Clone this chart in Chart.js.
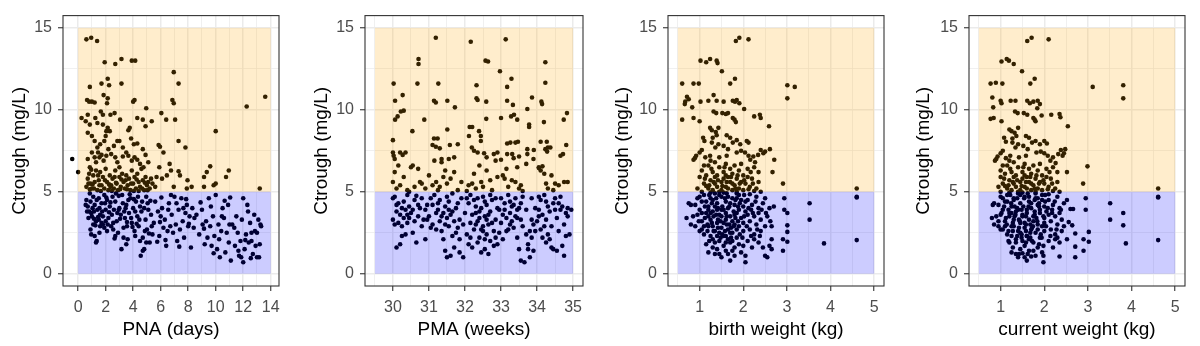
<!DOCTYPE html>
<html>
<head>
<meta charset="utf-8">
<script src="https://cdn.jsdelivr.net/npm/chart.js@4.4.1/dist/chart.umd.min.js"></script>
<style>
  html, body { margin: 0; padding: 0; background: #fff; }
  #wrap { position: relative; width: 1200px; height: 346px; }
  #wrap canvas { position: absolute; top: 0; }
</style>
</head>
<body>
<div id="wrap">
  <canvas id="pna" width="300" height="346" style="left:0px"></canvas>
  <canvas id="pma" width="300" height="346" style="left:300px"></canvas>
  <canvas id="bw" width="300" height="346" style="left:600px"></canvas>
  <canvas id="cw" width="300" height="346" style="left:900px"></canvas>
</div>
<script>
// trough target window (mg/L)
const troughLow = 5;
const troughHigh = 15;

const yMajor = [0, 5, 10, 15];
const yMinor = [2.5, 7.5, 12.5];

const pnaMajor = [0, 2, 4, 6, 8, 10, 12, 14];
const pnaMinor = [1, 3, 5, 7, 9, 11, 13];
const pmaMajor = [30, 31, 32, 33, 34, 35];
const pmaMinor = [29.5, 30.5, 31.5, 32.5, 33.5, 34.5];
const wtMajor = [1, 2, 3, 4, 5];
const wtMinor = [0.5, 1.5, 2.5, 3.5, 4.5];

// [PNA days, Ctrough]
const pnaPoints = [
  [-0.43,7.0],[0.0,6.2],[0.6,14.3],[0.95,14.4],[1.38,14.2],[1.93,12.9],[2.7,12.8],[3.15,13.1],[3.9,13.0],[4.15,13.0],
  [0.85,11.4],[1.7,11.6],[2.15,11.9],[2.25,11.5],[3.15,11.6],[6.95,12.3],[7.3,11.6],
  [0.65,10.6],[0.8,10.5],[1.0,10.5],[1.2,10.45],[1.85,10.9],[2.15,10.7],[2.1,10.4],[4.0,10.5],[4.1,10.6],[4.95,10.1],[6.85,10.6],[6.95,10.4],[12.25,10.2],[13.6,10.8],
  [0.25,9.5],[0.7,9.7],[1.25,9.5],[1.65,9.9],[1.8,9.7],[2.35,9.7],[2.65,9.8],[3.05,9.4],[4.3,9.5],[4.7,9.4],[4.9,9.0],[5.35,9.3],[6.05,9.8],[6.4,9.4],[7.05,9.4],[0.55,9.3],[0.85,9.1],[1.4,9.2],[1.8,9.1],[2.05,8.7],[10.0,8.7],
  [0.7,8.6],[1.0,8.4],[1.2,8.1],[1.4,7.7],[1.6,7.9],[1.9,8.1],[2.0,8.4],[2.15,8.9],[2.3,8.7],[2.6,7.8],[2.85,8.1],[3.0,8.1],[3.25,7.7],[3.65,8.75],[3.75,8.9],[3.85,8.25],[4.05,7.9],[4.3,7.95],[4.7,7.6],[5.85,7.85],[5.95,7.75],[7.3,8.1],[7.8,7.7],
  [0.7,7.0],[0.85,6.5],[1.0,7.4],[1.2,7.1],[1.3,6.8],[1.45,7.4],[1.55,7.1],[1.7,7.25],[1.85,6.9],[2.05,7.2],[2.2,7.6],[2.4,7.3],[2.7,7.1],[2.85,6.8],[3.0,6.5],[3.25,7.15],[3.5,7.4],[3.65,7.2],[3.9,6.9],[4.1,7.1],[4.3,6.95],[4.5,6.7],[4.75,6.5],[4.9,7.25],[5.1,6.8],[5.9,6.5],[6.2,7.4],[6.65,6.7],[6.75,6.3],[7.3,6.25],[7.4,6.0],[9.6,6.55],[9.35,6.2],[9.15,5.9],[10.95,6.3],[10.75,5.9],[10.0,5.5],[7.95,5.7],[13.2,5.2],
  [0.6,5.3],[0.7,5.8],[0.8,6.1],[0.9,5.5],[1.0,5.2],[1.1,6.0],[1.2,5.6],[1.3,6.3],[1.4,5.1],[1.5,5.7],[1.6,6.2],[1.7,5.4],[1.8,5.9],[1.9,5.2],[2.0,6.4],[2.1,5.6],[2.2,5.1],[2.3,6.0],[2.4,5.4],[2.5,5.8],[2.6,5.2],[2.7,6.3],[2.8,5.5],[2.9,5.1],[3.0,5.9],[3.1,5.3],[3.2,6.1],[3.3,5.6],[3.4,5.2],[3.5,6.0],[3.6,5.4],[3.7,5.8],[3.8,5.1],[3.9,6.3],[4.0,5.5],[4.1,5.9],[4.2,5.2],[4.3,6.1],[4.4,5.6],[4.5,5.3],[4.6,6.4],[4.7,5.7],[4.8,5.1],[4.9,5.9],[5.0,5.4],[5.1,5.6],[5.2,5.2],[5.4,5.5],[5.6,5.3],[5.7,5.9],[6.1,5.8],[6.45,6.0],[6.95,5.3],[7.9,5.2],[8.25,5.3],[9.15,5.3],[9.85,5.4],[1.05,5.45],[1.65,5.05],[2.45,5.05],[3.15,5.75],[4.05,5.05],[4.85,5.55],[0.95,6.35],[2.75,5.55],
  [0.75,5.5],[1.15,5.2],[1.55,5.4],[1.95,5.7],[2.35,5.3],[2.65,5.9],[3.05,5.15],[3.45,5.7],[3.85,5.5],[4.25,5.75],[4.65,5.2],[5.05,5.1],[5.3,5.8],[0.85,5.15],[1.45,6.0],[2.25,5.45],[3.55,5.15],[4.4,5.05],
  [0.6,4.5],[0.7,4.1],[0.8,3.8],[0.9,4.4],[1.0,3.5],[1.1,4.7],[1.2,4.2],[1.3,3.2],[1.4,3.9],[1.5,4.6],[1.6,3.6],[1.7,4.3],[1.8,3.0],[1.9,4.8],[2.0,3.9],[2.1,4.5],[2.2,3.4],[2.3,4.1],[2.4,2.9],[2.5,4.7],[0.9,2.7],[1.2,2.3],[1.3,1.9],[1.35,2.0],[1.5,3.3],[1.6,2.9],[1.7,3.1],[1.8,3.5],[1.9,2.8],[2.0,3.2],[2.1,2.6],[1.1,3.0],[0.75,3.4],[0.95,3.7],[1.45,3.45],[1.25,2.95],[2.25,3.75],[2.35,4.35],[1.05,4.0],[0.65,3.8],
  [2.6,3.9],[2.7,4.4],[2.8,3.2],[2.9,2.5],[3.0,4.0],[3.1,3.6],[3.2,4.8],[3.3,2.8],[3.4,3.4],[3.5,4.2],[3.6,2.1],[3.7,3.7],[3.8,4.6],[3.9,3.1],[4.0,4.0],[4.1,2.6],[4.2,4.4],[4.3,3.5],[4.4,2.9],[4.5,4.1],[4.6,3.8],[4.7,2.2],[4.8,4.0],[4.9,3.3],[5.0,2.7],[5.1,3.9],[5.2,1.9],[5.3,3.6],[5.4,2.4],[5.5,3.1],[3.15,1.5],[2.7,2.3],[2.65,2.15],[3.5,1.8],[4.55,1.1],[4.7,1.4],[4.8,1.5],[4.5,2.0],[3.95,2.85],[3.05,3.35],[2.95,4.75],[3.75,4.85],[4.05,4.55],[4.95,4.7],[5.25,4.45],[3.45,4.0],[4.25,3.05],[2.85,3.7],
  [0.55,4.2],[0.85,4.9],[1.15,3.8],[1.35,4.5],[1.55,4.0],[1.75,3.8],[1.95,4.3],[2.15,3.0],[2.45,3.6],[2.55,3.1],[2.75,4.9],[2.95,3.9],[3.25,4.3],[3.35,3.8],[3.55,2.9],[3.65,4.5],[3.85,3.4],[4.15,3.8],[4.35,4.7],[4.45,3.3],[4.65,4.4],[4.85,2.6],[5.05,4.3],[5.35,2.9],[3.3,2.2],[2.55,2.7],[1.55,2.5],[0.95,2.4],[1.15,3.35],[2.05,4.65],[3.55,3.15],[4.15,2.3],[4.95,1.9],[5.15,2.45],
  [5.6,4.4],[5.8,3.8],[5.9,2.3],[6.0,3.5],[6.1,4.0],[6.2,2.8],[6.3,3.3],[6.4,1.7],[6.5,2.6],[6.6,4.3],[6.7,2.9],[6.8,3.6],[6.9,2.5],[7.0,4.7],[7.1,3.0],[7.2,2.0],[7.3,3.9],[7.4,2.7],[7.5,4.6],[7.6,3.2],[7.7,2.2],[7.8,3.7],[7.9,4.2],[8.0,2.9],[8.1,3.5],[8.2,1.6],[8.3,4.0],[8.4,2.8],[6.35,2.05],[7.35,1.65],[5.75,1.95],[6.75,4.8],[7.85,4.55],[8.05,3.05],[6.05,4.65],[5.95,3.15],[6.55,3.9],[7.15,4.3],[7.65,4.0],[8.45,3.4],
  [8.6,3.6],[8.8,2.4],[9.0,3.9],[9.2,1.8],[9.3,3.2],[9.5,4.6],[9.6,2.9],[9.7,1.7],[9.8,3.5],[9.9,2.3],[10.0,4.8],[10.1,1.5],[10.2,3.0],[10.3,1.0],[10.4,2.6],[10.5,4.0],[10.6,3.4],[10.7,1.3],[10.8,2.5],[10.9,4.2],[11.0,3.0],[11.1,0.8],[9.4,2.2],[9.85,1.25],[10.25,2.1],[10.95,1.9],[8.9,4.35],[9.15,2.75],[10.65,4.45],[11.05,4.65],[9.05,3.0],[9.65,4.1],[10.45,3.5],
  [11.2,3.0],[11.4,1.7],[11.5,3.5],[11.6,2.5],[11.7,1.1],[11.8,2.0],[11.9,3.3],[12.0,0.7],[12.0,4.6],[12.1,1.5],[12.2,2.4],[12.3,4.2],[12.4,1.9],[12.5,3.1],[12.6,2.5],[12.7,1.2],[12.8,3.6],[12.9,1.7],[13.0,2.5],[13.0,1.0],[13.1,3.3],[13.2,1.8],[13.3,2.9],[11.65,1.4],[12.15,2.05],[12.55,0.95],[13.15,1.0],[11.85,1.0],[12.35,3.8],[13.25,3.0],[11.35,2.8],[12.6,2.0],[12.85,2.6]
];

// [PMA weeks, Ctrough]
const pmaPoints = [
  [31.19,14.4],[32.16,14.15],[33.13,14.3],[30.71,13.1],[30.71,12.8],[32.57,13.0],[32.64,12.95],[32.97,12.35],[34.23,12.9],
  [30.02,11.6],[30.68,11.6],[31.26,11.6],[32.32,11.5],[33.17,11.4],[33.29,11.9],[34.23,11.65],[30.27,10.9],[30.06,10.55],[31.14,10.55],[31.19,10.45],[31.51,10.55],[31.72,10.15],[32.32,10.7],[32.35,10.6],[32.59,10.5],[33.17,10.55],[33.33,10.3],[33.86,10.75],[33.73,10.05],[34.14,10.35],[34.12,10.5],
  [34.83,9.8],[34.19,9.25],[34.74,9.4],[33.36,9.7],[33.28,9.6],[33.45,9.4],[33.0,9.5],[32.59,9.45],[30.87,9.4],[30.13,9.6],[30.06,9.4],[30.22,9.9],[30.3,9.95],[30.54,8.7],[31.51,8.8],[32.13,8.95],[32.2,8.95],[32.39,8.7],[32.44,8.4],[32.11,8.4],[32.44,8.1],[33.78,9.1],[33.78,8.95],
  [31.8,7.9],[31.58,7.85],[31.14,8.25],[31.24,8.25],[31.1,7.85],[31.19,7.75],[31.3,7.65],[30.0,8.15],[30.0,7.4],[30.02,7.2],[30.2,7.4],[30.27,7.25],[32.19,7.7],[32.25,7.5],[32.53,7.35],[32.9,7.4],[33.17,7.95],[33.26,8.0],[33.4,8.0],[33.47,8.05],[33.17,7.3],[33.31,7.3],[33.5,7.15],[33.73,7.6],[33.91,7.55],[34.1,8.05],[34.27,8.05],[34.23,7.6],[34.3,7.7],[34.37,7.7],[34.28,7.45],[34.81,7.85],[34.65,7.2],[34.72,7.3],[33.73,7.3],
  [30.05,7.0],[30.35,7.4],[30.55,6.6],[31.35,7.0],[31.7,7.1],[32.35,7.4],[32.6,7.1],[32.8,7.3],[33.0,6.95],[33.35,7.05],[34.05,6.45],[34.15,6.55],
  [30.0,5.6],[30.05,6.2],[30.1,5.2],[30.15,6.6],[30.2,5.4],[30.3,5.9],[30.4,5.1],[30.5,6.5],[30.6,5.3],[30.7,6.4],[30.75,5.6],[30.8,5.5],[30.9,5.2],[31.0,6.0],[31.1,5.4],[31.15,6.9],[31.2,5.6],[31.3,5.3],[31.35,6.8],[31.4,5.9],[31.45,6.3],[31.5,5.5],[31.55,7.0],[31.6,5.8],[31.7,6.2],[31.8,5.1],[31.9,5.6],[32.1,5.4],[32.2,5.5],[32.25,6.1],[32.3,5.2],[32.4,6.6],[32.45,5.6],[32.5,5.3],[32.6,6.3],[32.7,5.7],[32.75,5.1],[32.85,6.9],[32.9,5.9],[33.05,6.0],[33.1,5.8],[33.15,6.4],[33.2,5.3],[33.3,5.7],[33.4,5.6],[33.45,6.5],[33.5,5.2],[33.55,5.4],[33.7,6.7],[33.9,7.0],[34.05,6.5],[34.1,6.3],[34.2,6.1],[34.25,5.5],[34.3,5.2],[34.4,6.0],[34.5,5.5],[34.6,5.4],[34.75,5.6],[34.85,5.6],[30.45,5.0],[31.25,5.1],[32.05,5.05],[33.6,5.05],[34.45,5.1],
  [30.0,4.6],[30.0,3.3],[30.05,4.7],[30.05,3.0],[30.1,1.6],[30.1,3.8],[30.15,4.3],[30.2,3.6],[30.2,1.8],[30.25,4.0],[30.25,2.3],[30.3,3.4],[30.3,4.4],[30.35,2.4],[30.35,3.9],[30.4,3.1],[30.4,4.8],[30.45,4.1],[30.5,3.7],[30.55,2.5],[30.6,4.5],[30.6,3.2],[30.65,1.9],[30.7,3.5],[30.75,4.0],[30.8,2.9],[30.8,4.6],[30.85,3.3],[30.9,2.1],[30.9,3.9],[30.95,4.2],[30.25,2.9],[30.15,3.1],[30.45,3.4],[30.65,4.75],[30.1,4.2],[30.4,3.6],[30.7,4.2],[30.95,3.3],[30.55,3.9],
  [31.0,3.5],[31.05,2.8],[31.1,4.2],[31.1,3.0],[31.15,4.8],[31.2,2.7],[31.25,3.9],[31.3,4.5],[31.3,3.2],[31.35,2.6],[31.4,3.7],[31.4,2.1],[31.45,1.4],[31.45,4.1],[31.5,3.4],[31.5,1.0],[31.55,2.9],[31.55,4.4],[31.6,3.6],[31.6,1.1],[31.65,2.3],[31.65,4.9],[31.7,3.2],[31.7,1.6],[31.75,4.0],[31.8,2.8],[31.85,1.3],[31.85,3.3],[31.9,4.6],[31.95,1.0],[31.95,3.0],[31.35,3.5],[31.55,3.9],[31.25,4.3],[31.75,2.5],[31.05,4.6],[31.2,3.7],[31.5,4.7],[31.8,4.3],[31.45,3.0],[31.65,3.8],[31.85,2.1],
  [32.0,3.7],[32.05,2.4],[32.1,4.3],[32.1,1.8],[32.15,3.1],[32.15,4.8],[32.2,1.6],[32.2,3.6],[32.25,2.7],[32.3,4.1],[32.3,3.0],[32.35,1.9],[32.35,4.6],[32.4,3.4],[32.4,2.2],[32.45,4.0],[32.45,1.3],[32.5,2.9],[32.5,4.7],[32.55,3.5],[32.55,1.5],[32.6,2.4],[32.6,4.2],[32.65,3.0],[32.65,1.2],[32.7,3.8],[32.7,2.0],[32.75,4.5],[32.8,2.6],[32.8,1.7],[32.85,3.3],[32.9,4.0],[32.9,1.8],[32.95,2.5],[32.95,3.9],[32.5,2.6],[32.4,3.8],[32.6,3.3],[32.25,4.5],[32.75,3.1],
  [32.05,4.6],[32.3,3.7],[32.55,4.4],[32.7,4.8],[32.85,4.6],[32.45,2.7],[32.35,3.2],[32.55,2.1],[32.65,3.6],[32.15,2.2],[32.85,2.2],
  [33.0,3.1],[33.0,4.6],[33.05,2.1],[33.1,3.9],[33.1,4.3],[33.15,3.4],[33.2,2.7],[33.2,4.8],[33.25,3.7],[33.3,4.1],[33.3,3.2],[33.35,2.8],[33.4,3.5],[33.4,4.6],[33.45,2.2],[33.45,3.4],[33.5,1.5],[33.5,4.0],[33.55,0.8],[33.55,3.3],[33.6,2.9],[33.6,4.7],[33.65,0.7],[33.7,2.4],[33.7,3.9],[33.75,1.8],[33.75,1.5],[33.8,2.6],[33.8,1.0],[33.85,3.3],[33.85,2.2],[33.9,1.4],[33.9,3.0],[33.95,4.0],[33.35,4.2],[33.15,2.6],[33.05,3.6],[33.25,4.4],[33.55,4.3],[33.85,4.6],[33.25,3.0],[33.45,3.9],[33.95,2.6],
  [34.0,3.2],[34.05,3.9],[34.1,2.7],[34.1,4.5],[34.15,2.2],[34.15,3.6],[34.2,2.9],[34.2,4.8],[34.25,1.9],[34.25,3.3],[34.3,4.1],[34.3,2.4],[34.35,3.8],[34.4,1.6],[34.4,2.9],[34.45,1.5],[34.5,4.6],[34.55,3.4],[34.6,4.3],[34.6,2.6],[34.65,3.9],[34.7,1.7],[34.7,4.1],[34.75,1.1],[34.75,3.0],[34.8,2.3],[34.8,3.7],[34.85,4.0],[34.9,2.4],[34.95,3.9],[34.35,2.1],[34.05,4.7],[34.55,1.4],[34.05,3.5],[34.25,4.4],[34.5,3.9],[34.65,4.7],[34.85,3.5],[34.45,4.3]
];

// [birth weight kg, Ctrough]
const bwPoints = [
  [1.91,14.4],[1.83,14.2],[2.12,14.3],[1.02,13.0],[1.15,12.9],[1.24,13.1],[1.39,13.0],[1.41,12.85],[1.51,12.35],[1.7,11.6],[1.81,11.9],[0.6,11.6],[0.86,11.6],[0.98,11.6],
  [0.71,10.8],[0.75,10.65],[0.67,10.5],[0.66,10.35],[0.83,10.15],[1.02,10.5],[1.2,10.55],[1.32,10.9],[1.39,10.55],[1.55,10.5],[1.76,10.55],[1.81,10.5],[1.85,10.6],[1.91,10.4],[2.02,10.05],
  [0.6,9.4],[0.86,9.5],[1.0,9.3],[1.32,9.9],[1.38,9.8],[1.52,9.8],[1.6,9.75],[1.65,9.8],[1.76,9.5],[1.8,9.4],[1.83,9.25],[2.25,9.6],[2.38,9.7],[2.4,9.5],[2.59,9.0],
  [1.24,8.9],[1.28,8.75],[1.37,8.65],[1.43,8.9],[1.3,8.3],[1.39,8.45],[1.62,8.45],[1.7,8.3],[1.08,8.3],[1.11,8.1],[1.28,8.0],[1.43,7.9],[1.36,7.7],[1.55,7.8],[1.65,7.6],[1.76,8.0],[1.85,8.15],[1.93,7.9],[2.08,8.1],[2.12,8.0],
  [1.05,7.55],[1.0,7.4],[0.92,7.2],[0.89,7.05],[0.86,6.95],[1.13,7.1],[1.24,7.2],[1.45,7.1],[1.62,7.2],[1.85,7.4],[1.95,7.5],[2.04,7.4],[2.12,7.2],[2.23,7.15],[2.34,7.25],[2.4,7.55],[2.46,7.35],[2.16,6.95],[2.27,6.8],[2.61,7.6],[2.5,7.45],[2.71,6.95],[2.67,6.2],
  [0.95,5.2],[1.0,5.9],[1.05,6.3],[1.1,5.5],[1.15,6.0],[1.2,5.2],[1.2,6.6],[1.25,5.7],[1.3,6.2],[1.3,5.1],[1.35,5.5],[1.35,6.8],[1.4,6.0],[1.4,5.3],[1.45,6.5],[1.5,5.6],[1.5,5.1],[1.55,6.2],[1.55,5.8],[1.6,5.3],[1.6,6.7],[1.65,5.9],[1.65,5.2],[1.7,6.4],[1.7,5.6],[1.75,5.1],[1.75,6.1],[1.8,5.4],[1.8,6.6],[1.85,5.8],[1.9,5.2],[1.9,6.3],[1.95,5.6],[2.0,6.0],[2.0,5.1],[2.05,5.5],[2.1,6.4],[2.15,5.3],[2.2,5.8],[2.25,6.5],[2.3,5.2],[2.35,5.6],[2.35,6.2],[2.4,5.0],[1.1,6.6],[1.25,6.9],[1.45,5.0],[1.85,5.0],[1.05,5.0],[1.6,6.0],[1.35,5.9],[1.75,5.5],[1.95,6.7],[2.1,5.9],[2.25,5.05],[1.15,5.35],
  [1.12,5.8],[1.22,5.4],[1.32,5.6],[1.42,5.7],[1.52,5.35],[1.62,5.6],[1.72,5.9],[1.82,5.2],[1.92,5.5],[2.02,5.7],[2.12,5.15],[2.22,5.5],[1.27,6.4],[1.57,6.5],[1.87,6.0],[2.17,6.2],
  [3.01,11.5],[3.18,11.4],[3.01,10.7],[2.91,5.5],[4.6,5.2],[4.6,4.7],[4.6,4.65],[4.6,2.05],[3.85,1.85],[3.52,4.3],[3.52,3.3],[2.94,4.6],[2.94,3.9],[3.01,3.7],[3.01,2.95],[3.01,2.55],[2.91,2.1],[3.01,1.95],[2.91,1.4],
  [0.7,3.4],[0.75,4.3],[0.8,3.0],[0.85,3.5],[0.9,4.2],[0.9,2.9],[0.95,3.6],[0.95,4.6],[1.0,2.6],[1.0,3.9],[1.05,4.4],[1.05,3.2],[1.1,4.8],[1.1,2.4],[1.15,3.7],[1.15,1.8],[1.2,4.1],[1.2,2.9],[1.2,1.3],[1.25,3.3],[1.25,4.6],[1.3,2.1],[1.3,3.8],[1.35,4.9],[1.35,2.6],[1.4,3.1],[1.4,1.5],[1.4,4.3],[1.45,3.6],[1.45,2.0],[1.5,4.7],[1.5,2.8],[1.5,1.0],[1.55,3.9],[1.55,2.3],[1.6,4.4],[1.6,3.3],[1.6,1.4],[1.65,2.7],[1.65,4.0],[1.7,0.8],[1.7,3.5],[1.7,1.9],[1.75,4.6],[1.75,2.5],[1.8,3.0],[1.8,4.2],[1.8,1.6],[1.85,3.7],[1.85,2.2],[1.9,4.8],[1.9,2.9],[1.95,1.3],[1.95,3.4],[2.0,4.1],[2.0,2.6],[2.05,0.7],[2.05,1.1],[2.05,3.8],[2.1,4.5],[2.1,2.0],[2.15,3.2],[2.15,2.7],[2.2,4.2],[2.2,1.6],[2.25,3.5],[2.25,2.4],[2.3,4.7],[2.3,3.0],[2.35,1.9],[2.35,4.0],[2.4,2.6],[2.4,3.3],[2.45,4.3],[2.5,1.1],[2.5,2.9],[2.55,1.0],[2.55,3.5],[2.6,1.7],[2.6,4.0],[2.65,2.1],[2.65,1.5],[2.65,2.9],[2.7,4.1],
  [1.3,2.9],[1.45,2.5],[1.55,3.1],[1.25,3.7],[1.35,1.9],[1.65,2.1],[1.75,3.2],[1.85,2.7],[1.5,3.5],[1.6,2.3],[1.7,4.3],[1.4,3.9],[1.2,3.5],[1.1,2.9],[1.9,3.9],[2.0,3.1],[1.15,4.4],[1.95,4.5],[1.35,1.2],[1.55,1.7],[1.8,1.1],[1.45,4.8],[1.65,4.7],[1.75,1.4],[2.1,3.6],[2.25,2.1],[2.35,3.7],[1.05,2.7],[1.3,4.5],[1.6,3.7],[1.85,4.6],[1.25,2.3],[2.45,1.6],[2.5,4.6],[1.0,4.7],[0.8,4.2],
  [1.28,3.1],[1.42,3.3],[1.52,4.1],[1.58,2.6],[1.68,3.0],[1.78,3.8],[1.38,4.6],[1.48,2.2],[1.62,4.9],[1.72,2.8],[1.82,3.4],[1.92,2.4],[1.22,4.8],[1.32,3.5],[1.42,2.8],[1.88,4.1],[2.02,4.8],[2.18,3.9],[1.12,3.4],[1.18,2.6],
  [1.12,4.1],[1.18,3.0],[1.22,2.0],[1.28,4.3],[1.32,2.6],[1.38,3.6],[1.42,4.0],[1.48,3.2],[1.52,2.4],[1.58,4.6],[1.62,3.0],[1.68,4.1],[1.72,2.2],[1.78,2.9],[1.82,4.5],[1.88,3.2],[1.92,4.3],[1.98,2.2],[2.02,3.5],[2.08,2.9],[2.12,4.0],[2.18,2.3],[2.22,3.7],[2.28,4.4],[2.32,2.7],[1.25,4.95],[1.55,4.95],[1.85,4.9],[2.15,4.85],[1.45,1.2],[1.65,1.2],[1.9,1.8],[1.3,1.6],[1.6,1.9],[2.0,1.7],[1.4,2.3],[1.7,2.5],[1.5,3.9],[1.8,3.6],[1.2,3.9],[2.05,4.4],[1.35,4.1],[1.62,3.5],[1.75,2.0],[1.05,3.7],[0.98,3.2],[2.42,3.9],[2.52,3.7],[2.62,3.2],[2.38,2.3]
];

// [current weight kg, Ctrough]
const cwPoints = [
  [1.61,14.2],[1.71,14.4],[2.1,14.3],[1.02,12.95],[1.14,13.1],[1.19,13.0],[1.3,12.8],[1.49,12.35],[1.68,11.6],[1.78,11.9],[0.77,11.6],[0.89,11.65],[1.04,11.6],
  [0.81,10.75],[0.83,10.15],[1.0,10.55],[1.02,10.4],[1.23,10.55],[1.34,10.55],[1.61,10.55],[1.67,10.4],[1.75,10.5],[1.85,10.55],[1.9,10.35],[1.84,10.1],
  [0.77,9.45],[0.84,9.5],[1.02,9.3],[1.33,9.9],[1.39,9.8],[1.53,9.8],[1.61,9.7],[1.75,9.5],[1.78,9.4],[1.8,9.3],[1.94,9.65],[2.35,9.75],[2.37,9.55],[2.54,9.0],[2.16,9.7],
  [1.2,8.8],[1.25,8.7],[1.32,8.6],[1.4,8.9],[1.27,8.25],[1.36,8.4],[1.58,8.4],[1.65,8.3],[1.08,8.3],[1.12,8.05],[1.27,8.0],[1.4,7.9],[1.34,7.7],[1.52,7.8],[1.62,7.6],[1.72,8.0],[1.8,8.1],[1.9,7.9],[2.0,8.1],[2.06,7.95],
  [1.05,7.5],[1.0,7.35],[0.93,7.15],[0.9,7.0],[0.87,6.9],[1.12,7.05],[1.22,7.2],[1.42,7.1],[1.58,7.2],[1.82,7.4],[1.92,7.45],[2.0,7.35],[2.08,7.2],[2.2,7.1],[2.32,7.3],[2.38,7.55],[2.45,7.35],[2.48,7.6],[2.42,7.2],[2.14,6.9],[2.26,6.75],[2.52,6.2],
  [0.95,5.3],[1.0,5.9],[1.0,6.3],[1.05,5.5],[1.1,6.1],[1.15,5.2],[1.15,6.6],[1.2,5.7],[1.25,6.2],[1.25,5.1],[1.3,5.5],[1.3,6.8],[1.35,6.0],[1.35,5.3],[1.4,6.5],[1.45,5.6],[1.45,5.1],[1.5,6.2],[1.5,5.8],[1.55,5.3],[1.55,6.7],[1.6,5.9],[1.6,5.2],[1.65,6.4],[1.65,5.6],[1.7,5.1],[1.7,6.1],[1.75,5.4],[1.75,6.6],[1.8,5.8],[1.85,5.2],[1.85,6.3],[1.9,5.6],[1.95,6.0],[1.95,5.1],[2.0,5.5],[2.05,6.4],[2.1,5.3],[2.15,5.8],[2.2,6.5],[2.25,5.2],[2.3,5.6],[2.3,6.2],[2.35,5.0],[1.05,6.6],[1.2,6.9],[1.4,5.0],[1.8,5.0],[1.0,5.0],[1.55,6.0],[1.3,5.9],[1.7,5.5],[1.9,6.7],[2.05,5.9],[2.2,5.05],[1.1,5.35],
  [1.08,5.8],[1.18,5.4],[1.28,5.6],[1.38,5.7],[1.48,5.35],[1.58,5.6],[1.68,5.9],[1.78,5.2],[1.88,5.5],[1.98,5.7],[2.08,5.15],[2.18,5.5],[1.22,6.4],[1.52,6.5],[1.82,6.0],[2.12,6.2],
  [3.11,11.4],[3.81,11.5],[3.81,10.7],[2.89,5.5],[2.99,6.55],[4.61,5.2],[4.61,4.7],[4.61,4.65],[4.61,2.05],[3.87,1.85],[3.51,4.3],[3.51,3.3],[3.81,3.7],[3.81,2.95],[2.95,4.6],[2.95,3.9],[3.02,2.55],[2.9,2.1],[3.02,1.95],[2.9,1.4],[2.71,1.65],[2.71,1.0],[2.52,4.5],[2.56,3.15],[2.6,3.95],[2.66,3.95],[2.71,2.45],[2.52,2.1],[2.35,1.05],[2.64,2.95],
  [0.8,3.4],[0.85,4.3],[0.85,3.0],[0.9,3.5],[0.95,4.2],[0.95,2.9],[1.0,3.6],[1.0,2.7],[1.05,4.6],[1.05,3.9],[1.1,4.4],[1.1,3.2],[1.15,4.8],[1.15,2.4],[1.2,3.7],[1.2,1.9],[1.25,4.1],[1.25,2.9],[1.25,1.3],[1.3,3.3],[1.3,4.6],[1.35,2.1],[1.35,3.8],[1.4,4.9],[1.4,2.6],[1.45,3.1],[1.45,1.5],[1.45,4.3],[1.5,3.6],[1.5,2.0],[1.55,4.7],[1.55,2.8],[1.55,1.0],[1.6,3.9],[1.6,2.3],[1.65,4.4],[1.65,3.3],[1.65,1.4],[1.7,2.7],[1.7,4.0],[1.6,0.8],[1.75,3.5],[1.75,1.9],[1.8,4.6],[1.8,2.5],[1.85,3.0],[1.85,4.2],[1.85,1.6],[1.9,3.7],[1.9,2.2],[1.95,4.8],[1.95,2.9],[1.95,1.3],[2.0,3.4],[2.0,4.1],[2.0,2.6],[1.98,0.7],[1.98,1.1],[2.05,3.8],[2.1,4.5],[2.1,2.0],[2.15,3.2],[2.15,2.7],[2.2,4.2],[2.2,1.6],[2.25,3.5],[2.25,2.4],[2.3,4.7],[2.3,3.0],[2.35,1.9],[2.35,4.0],[2.4,2.6],[2.4,3.3],[2.45,4.3],[2.45,2.9],
  [1.3,2.9],[1.45,2.5],[1.55,3.1],[1.25,3.7],[1.35,1.9],[1.65,2.1],[1.75,3.2],[1.85,2.7],[1.5,3.5],[1.6,2.3],[1.7,4.3],[1.4,3.9],[1.2,3.5],[1.1,2.9],[1.9,3.9],[2.0,3.1],[1.15,4.4],[1.95,4.5],[1.35,1.2],[1.55,1.7],[1.8,1.1],[1.45,4.8],[1.65,4.7],[1.75,1.4],[2.1,3.6],[2.25,2.1],[2.35,3.7],[1.05,2.7],[1.3,4.5],[1.6,3.7],[1.85,4.6],[1.25,2.3],[1.0,4.7],[0.82,4.2],
  [1.28,3.1],[1.42,3.3],[1.52,4.1],[1.58,2.6],[1.68,3.0],[1.78,3.8],[1.38,4.6],[1.48,2.2],[1.62,4.9],[1.72,2.8],[1.82,3.4],[1.92,2.4],[1.22,4.8],[1.32,3.5],[1.42,2.8],[1.88,4.1],[2.02,4.8],[2.18,3.9],[1.12,3.4],[1.18,2.6],[1.4,1.0],[1.7,1.05],[1.5,1.25],
  [1.08,4.1],[1.14,3.0],[1.18,2.0],[1.24,4.3],[1.28,2.6],[1.34,3.6],[1.38,4.0],[1.44,3.2],[1.48,2.4],[1.54,4.6],[1.58,3.0],[1.64,4.1],[1.68,2.2],[1.74,2.9],[1.78,4.5],[1.84,3.2],[1.88,4.3],[1.94,2.2],[1.98,3.5],[2.04,2.9],[2.08,4.0],[2.14,2.3],[2.18,3.7],[2.24,4.4],[2.28,2.7],[1.2,4.95],[1.5,4.95],[1.8,4.9],[2.1,4.85],[1.42,1.2],[1.62,1.2],[1.88,1.8],[1.28,1.6],[1.58,1.9],[1.98,1.7],[1.38,2.3],[1.68,2.5],[1.48,3.9],[1.78,3.6],[1.18,3.9],[2.02,4.4],[1.32,4.1],[1.58,3.5],[1.72,2.0],[1.02,3.7],[0.95,3.2],[2.38,3.9],[2.3,2.2]
];

const font = "'Liberation Sans', Arial, sans-serif";
const gridColor = '#EBEBEB';

// shaded target bands, drawn over the points like a translucent layer, then the panel frame
const bands = {
  id: 'bands',
  afterDatasetsDraw(chart, args, opts) {
    const { ctx, chartArea: a, scales: { x, y } } = chart;
    const x0 = x.getPixelForValue(opts.from);
    const x1 = x.getPixelForValue(opts.to);
    const yHigh = y.getPixelForValue(troughHigh);
    const yLow = y.getPixelForValue(troughLow);
    const yZero = y.getPixelForValue(0);
    ctx.save();
    ctx.fillStyle = 'rgba(255,165,0,0.2)';
    ctx.fillRect(x0, yHigh, x1 - x0, yLow - yHigh);
    ctx.fillStyle = 'rgba(0,0,255,0.2)';
    ctx.fillRect(x0, yLow, x1 - x0, yZero - yLow);
    ctx.strokeStyle = '#333333';
    ctx.lineWidth = 1.1;
    ctx.strokeRect(a.left, a.top, a.width, a.height);
    ctx.restore();
  }
};

function gridOpts(major) {
  const isMajor = v => major.includes(v);
  return {
    color: gridColor,
    lineWidth: c => isMajor(c.tick.value) ? 1.5 : 0.75,
    tickColor: c => isMajor(c.tick.value) ? '#333333' : 'rgba(0,0,0,0)',
    tickWidth: 1.1,
    tickLength: 5
  };
}

function panel(id, cfg) {
  const xTicks = cfg.major.concat(cfg.minor).sort((a, b) => a - b);
  const yTicks = yMajor.concat(yMinor).sort((a, b) => a - b);
  return new Chart(document.getElementById(id), {
    type: 'scatter',
    data: {
      datasets: [{
        data: cfg.points.map(p => ({ x: p[0], y: p[1] })),
        backgroundColor: '#000000',
        borderWidth: 0,
        pointRadius: 2.3
      }]
    },
    options: {
      responsive: false,
      animation: false,
      devicePixelRatio: 1,
      layout: { padding: { left: 0, top: 14, right: 300 - cfg.right, bottom: 0 } },
      plugins: {
        legend: { display: false },
        tooltip: { enabled: false },
        bands: { from: cfg.band[0], to: cfg.band[1] }
      },
      scales: {
        x: {
          type: 'linear',
          min: cfg.min,
          max: cfg.max,
          afterBuildTicks: s => { s.ticks = xTicks.map(v => ({ value: v })); },
          afterFit: s => { s.height = 60; },
          grid: gridOpts(cfg.major),
          border: { display: false },
          ticks: {
            autoSkip: false,
            maxRotation: 0,
            padding: 7,
            color: '#4D4D4D',
            font: { family: font, size: 16 },
            callback: v => cfg.major.includes(v) ? String(v) : ''
          },
          title: {
            display: true,
            text: cfg.title,
            color: '#000000',
            font: { family: font, size: 19 },
            // bottom-placed titles are offset by the bottom padding
            padding: { top: 0, bottom: 4.5 }
          }
        },
        y: {
          type: 'linear',
          min: -0.75,
          max: 15.75,
          afterBuildTicks: s => { s.ticks = yTicks.map(v => ({ value: v })); },
          afterFit: s => { s.width = cfg.left; },
          grid: gridOpts(yMajor),
          border: { display: false },
          ticks: {
            autoSkip: false,
            padding: 6,
            color: '#4D4D4D',
            font: { family: font, size: 16 },
            callback: v => yMajor.includes(v) ? String(v) : ''
          },
          title: {
            display: true,
            text: 'Ctrough (mg/L)',
            color: '#000000',
            font: { family: font, size: 19 },
            padding: { top: cfg.titleX - 11.4, bottom: 0 }
          }
        }
      }
    },
    plugins: [bands]
  });
}

panel('pna', { points: pnaPoints, min: -1.1, max: 14.6, major: pnaMajor, minor: pnaMinor, band: [0, 14], title: 'PNA (days)', left: 63, right: 279, titleX: 20 });
panel('pma', { points: pmaPoints, min: 29.225, max: 35.275, major: pmaMajor, minor: pmaMinor, band: [29.5, 35], title: 'PMA (weeks)', left: 65, right: 283, titleX: 21.5 });
panel('bw', { points: bwPoints, min: 0.275, max: 5.225, major: wtMajor, minor: wtMinor, band: [0.5, 5], title: 'birth weight (kg)', left: 68, right: 284, titleX: 22.5 });
panel('cw', { points: cwPoints, min: 0.275, max: 5.225, major: wtMajor, minor: wtMinor, band: [0.5, 5], title: 'current weight (kg)', left: 69, right: 285, titleX: 23.5 });
</script>
</body>
</html>
